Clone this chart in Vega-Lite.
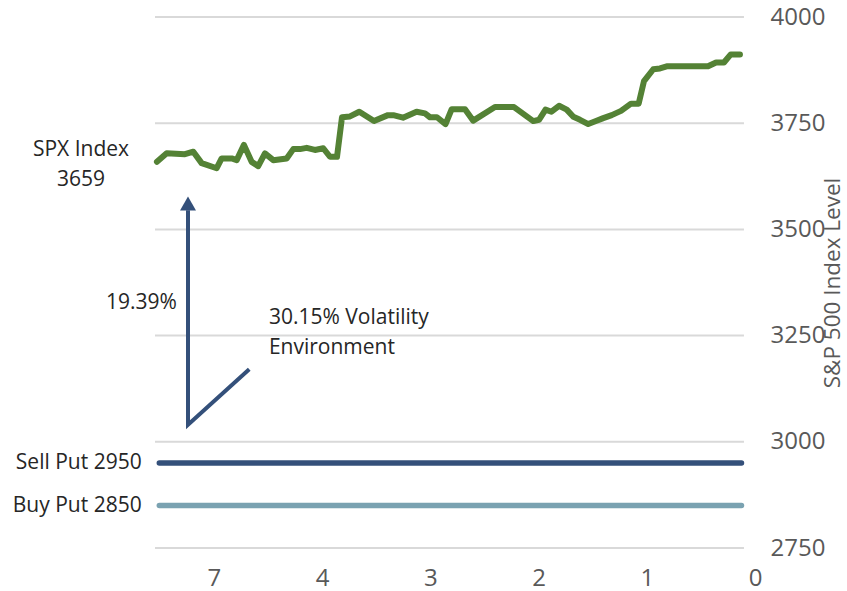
{
  "$schema": "https://vega.github.io/schema/vega-lite/v6.json",
  "width": 600,
  "height": 531,
  "autosize": {"type": "none"},
  "padding": {"left": 155, "top": 17, "right": 92, "bottom": 43},
  "background": "white",
  "config": {"view": {"stroke": null}, "font": "Open Sans"},
  "datasets": {
    "grid": [{"level": 2750}, {"level": 3000}, {"level": 3250}, {"level": 3500}, {"level": 3750}, {"level": 4000}],
    "puts": [{"leg": "Sell Put", "strike": 2950}, {"leg": "Buy Put", "strike": 2850}],
    "spx": [
      {"u": -0.527, "spx": 3659}, {"u": -0.437, "spx": 3679}, {"u": -0.268, "spx": 3677}, {"u": -0.191, "spx": 3683},
      {"u": -0.114, "spx": 3656}, {"u": 0.025, "spx": 3644}, {"u": 0.071, "spx": 3667}, {"u": 0.164, "spx": 3667},
      {"u": 0.210, "spx": 3663}, {"u": 0.277, "spx": 3699}, {"u": 0.348, "spx": 3659}, {"u": 0.409, "spx": 3649},
      {"u": 0.471, "spx": 3679}, {"u": 0.548, "spx": 3663}, {"u": 0.672, "spx": 3667}, {"u": 0.733, "spx": 3689},
      {"u": 0.795, "spx": 3689}, {"u": 0.857, "spx": 3692}, {"u": 0.933, "spx": 3687}, {"u": 1.010, "spx": 3691},
      {"u": 1.072, "spx": 3671}, {"u": 1.137, "spx": 3671}, {"u": 1.183, "spx": 3764}, {"u": 1.257, "spx": 3766},
      {"u": 1.343, "spx": 3777}, {"u": 1.479, "spx": 3755}, {"u": 1.608, "spx": 3769}, {"u": 1.657, "spx": 3769},
      {"u": 1.747, "spx": 3763}, {"u": 1.872, "spx": 3777}, {"u": 1.950, "spx": 3773}, {"u": 1.996, "spx": 3764},
      {"u": 2.061, "spx": 3764}, {"u": 2.140, "spx": 3748}, {"u": 2.197, "spx": 3783}, {"u": 2.320, "spx": 3783},
      {"u": 2.396, "spx": 3756}, {"u": 2.597, "spx": 3788}, {"u": 2.773, "spx": 3788}, {"u": 2.951, "spx": 3755},
      {"u": 3.004, "spx": 3758}, {"u": 3.064, "spx": 3782}, {"u": 3.119, "spx": 3777}, {"u": 3.189, "spx": 3791},
      {"u": 3.260, "spx": 3782}, {"u": 3.321, "spx": 3765}, {"u": 3.383, "spx": 3758}, {"u": 3.459, "spx": 3748},
      {"u": 3.530, "spx": 3755}, {"u": 3.598, "spx": 3762}, {"u": 3.676, "spx": 3769}, {"u": 3.762, "spx": 3779},
      {"u": 3.854, "spx": 3796}, {"u": 3.925, "spx": 3796}, {"u": 3.974, "spx": 3849}, {"u": 4.060, "spx": 3877},
      {"u": 4.122, "spx": 3879}, {"u": 4.184, "spx": 3884}, {"u": 4.566, "spx": 3884}, {"u": 4.640, "spx": 3893},
      {"u": 4.713, "spx": 3893}, {"u": 4.776, "spx": 3912}, {"u": 4.861, "spx": 3912}
    ],
    "arrow": [{"order": 1, "u": 0.326, "v": 3171}, {"order": 2, "u": -0.240, "v": 3040}, {"order": 3, "u": -0.240, "v": 3545}],
    "arrowhead": [{"u": -0.240, "v": 3561}],
    "notesCenter": [{"text": "SPX Index", "u": -1.229, "v": 3687}, {"text": "3659", "u": -1.229, "v": 3616}],
    "notesRight": [{"text": "19.39%", "u": -0.342, "v": 3327}, {"text": "Sell Put 2950", "u": -0.668, "v": 2950}, {"text": "Buy Put 2850", "u": -0.668, "v": 2850}],
    "notesLeft": [{"text": "30.15% Volatility", "u": 0.508, "v": 3291}, {"text": "Environment", "u": 0.508, "v": 3221}]
  },
  "layer": [
    {
      "data": {"name": "grid"},
      "mark": {"type": "rule", "color": "#D9D9D9", "strokeWidth": 2},
      "encoding": {
        "x": {"datum": -0.545, "type": "quantitative", "scale": {"domain": [-0.545, 5], "nice": false, "zero": false}, "axis": {
          "title": null, "values": [0, 1, 2, 3, 4, 5],
          "labelExpr": "['7','4','3','2','1','0'][datum.value]",
          "grid": false, "domain": false, "ticks": false, "labelPadding": 18,
          "labelFont": "Open Sans", "labelFontSize": 24, "labelColor": "#595959", "labelOverlap": false, "labelFlush": false
        }},
        "x2": {"datum": 4.898},
        "y": {"field": "level", "type": "quantitative", "scale": {"domain": [2750, 4000], "nice": false, "zero": false}, "axis": {
          "orient": "right", "values": [2750, 3000, 3250, 3500, 3750, 4000], "format": "d",
          "grid": false, "domain": false, "ticks": false, "labelPadding": 15,
          "labelFont": "Open Sans", "labelFontSize": 24, "labelColor": "#595959", "labelOverlap": false, "labelFlush": false,
          "title": "S&P 500 Index Level", "titleFont": "Open Sans", "titleFontSize": 22.5, "titleFontWeight": "normal",
          "titleColor": "#595959", "titleAngle": 270, "titleBaseline": "top", "titlePadding": -3
        }}
      }
    },
    {
      "data": {"name": "puts"},
      "mark": {"type": "rule", "strokeWidth": 5.5, "strokeCap": "round"},
      "encoding": {
        "x": {"datum": -0.505, "type": "quantitative"},
        "x2": {"datum": 4.875},
        "y": {"field": "strike", "type": "quantitative"},
        "color": {"field": "leg", "type": "nominal", "scale": {"domain": ["Sell Put", "Buy Put"], "range": ["#34507A", "#7AA2B1"]}, "legend": null}
      }
    },
    {
      "data": {"name": "spx"},
      "mark": {"type": "line", "color": "#548235", "strokeWidth": 6, "strokeJoin": "round", "strokeCap": "round"},
      "encoding": {
        "x": {"field": "u", "type": "quantitative"},
        "y": {"field": "spx", "type": "quantitative"}
      }
    },
    {
      "data": {"name": "arrow"},
      "mark": {"type": "line", "color": "#34507A", "strokeWidth": 4},
      "encoding": {
        "x": {"field": "u", "type": "quantitative"},
        "y": {"field": "v", "type": "quantitative"},
        "order": {"field": "order"}
      }
    },
    {
      "data": {"name": "arrowhead"},
      "mark": {"type": "point", "shape": "triangle-up", "size": 256, "filled": true, "color": "#34507A", "opacity": 1},
      "encoding": {
        "x": {"field": "u", "type": "quantitative"},
        "y": {"field": "v", "type": "quantitative"}
      }
    },
    {
      "data": {"name": "notesCenter"},
      "mark": {"type": "text", "align": "center", "baseline": "middle", "fontSize": 21, "font": "Open Sans", "color": "#262626"},
      "encoding": {
        "x": {"field": "u", "type": "quantitative"},
        "y": {"field": "v", "type": "quantitative"},
        "text": {"field": "text"}
      }
    },
    {
      "data": {"name": "notesRight"},
      "mark": {"type": "text", "align": "right", "baseline": "middle", "fontSize": 21, "font": "Open Sans", "color": "#262626"},
      "encoding": {
        "x": {"field": "u", "type": "quantitative"},
        "y": {"field": "v", "type": "quantitative"},
        "text": {"field": "text"}
      }
    },
    {
      "data": {"name": "notesLeft"},
      "mark": {"type": "text", "align": "left", "baseline": "middle", "fontSize": 21, "font": "Open Sans", "color": "#262626"},
      "encoding": {
        "x": {"field": "u", "type": "quantitative"},
        "y": {"field": "v", "type": "quantitative"},
        "text": {"field": "text"}
      }
    }
  ]
}
